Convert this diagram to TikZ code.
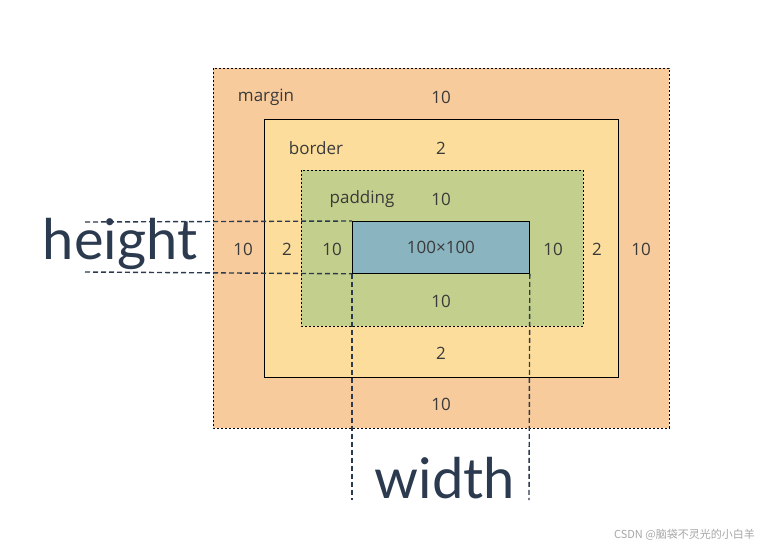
\documentclass[tikz,border=0pt]{standalone}
\usepackage{fontspec}
\setmainfont{Open Sans}
\newfontfamily\bigfont{Lato}
\newfontfamily\cjk{Noto Sans CJK SC}
\definecolor{cmargin}{HTML}{F8CB9C}
\definecolor{cborder}{HTML}{FCDD9B}
\definecolor{cpad}{HTML}{C3CF8C}
\definecolor{ccont}{HTML}{8AB4C0}
\definecolor{ctxt}{HTML}{3A3A3A}
\definecolor{cbig}{HTML}{2B3A4F}
\tikzset{
 lbl/.style={text=ctxt,font=\fontsize{17}{17}\selectfont,inner sep=0},
 big/.style={text=cbig,font=\bigfont\fontsize{56}{56}\selectfont,inner sep=0},
 guide/.style={cbig,line width=1.4pt,dash pattern=on 5pt off 3pt},
}
\begin{document}
\begin{tikzpicture}[x=1pt,y=-1pt]
\useasboundingbox (0,0) rectangle (770,551);
\draw[fill=cmargin,dash pattern=on 2pt off 2pt,line width=0.8pt] (213,68) rectangle (669,428);
\draw[fill=cborder,line width=0.8pt] (264,119) rectangle (618,377);
\draw[fill=cpad,dash pattern=on 2pt off 2pt,line width=0.8pt] (301,170) rectangle (583,326);
\node[draw,line width=0.8pt,fill=ccont,minimum width=177pt,minimum height=52pt,anchor=north west,lbl] (c) at (352,221) {100×100};
\node[lbl] (ml) at (266,97) {margin};
\node[lbl] (mt) at (441,97) {10};
\node[lbl] (bl) at (316,148) {border};
\node[lbl] (bt) at (441,148) {2};
\node[lbl] (pl) at (362,199) {padding};
\node[lbl] (pt) at (441,199) {10};
\node[lbl] (ml2) at (243,249) {10};
\node[lbl] (bl2) at (287,249) {2};
\node[lbl] (pl2) at (332,249) {10};
\node[lbl] (pr) at (553,249) {10};
\node[lbl] (br) at (597,249) {2};
\node[lbl] (mr) at (641,249) {10};
\node[lbl] (pb) at (441,301) {10};
\node[lbl] (bb) at (441,353) {2};
\node[lbl] (mb) at (441,404) {10};
\coordinate (h1) at (85,222);
\coordinate (h2) at (85,272);
\coordinate (w1) at (352,500);
\coordinate (w2) at (529,500);
\draw[guide] (h1) -- (c.north west);
\draw[guide] (h2) -- (c.south west);
\draw[guide] (c.south west) -- (w1);
\draw[guide] (c.south east) -- (w2);
\node[big] (ht) at (120,244) {height};
\node[big] (wt) at (445,478) {width};
\node[text=gray!70,font=\cjk\fontsize{11}{11}\selectfont,anchor=east,inner sep=0] (wm) at (755,535) {CSDN @脑袋不灵光的小白羊};
\end{tikzpicture}
\end{document}
